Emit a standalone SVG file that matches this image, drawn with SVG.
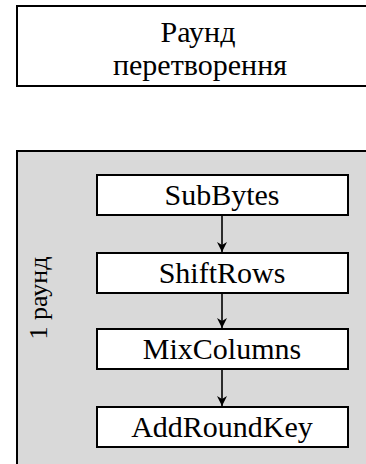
<svg xmlns="http://www.w3.org/2000/svg" width="366" height="464" viewBox="0 0 366 464">
<defs>
<style>
.box{fill:#fff;stroke:#000;stroke-width:2}
.c{stroke:#000;stroke-width:1.6;fill:none;marker-end:url(#ah)}
text{font-family:"Liberation Serif",serif;font-size:30px;fill:#000;text-anchor:middle}
</style>
<marker id="ah" viewBox="0 0 10 10" refX="10" refY="5" markerWidth="12" markerHeight="10" markerUnits="userSpaceOnUse" orient="auto">
<path d="M0,0 L10,5 L0,10 L3,5 Z" fill="#000"/>
</marker>
</defs>
<g id="round-transform">
<rect class="box" x="17" y="6" width="400" height="80"/>
<text x="198" y="42">Раунд</text>
<text x="200" y="75">перетворення</text>
</g>
<g id="round1">
<rect x="17" y="151" width="400" height="400" fill="#d9d9d9" stroke="#000" stroke-width="2"/>
<text style="font-size:26px" transform="translate(47,298) rotate(-90)">1 раунд</text>
</g>
<g id="subbytes">
<rect class="box" x="97" y="175" width="251" height="40"/>
<text x="222" y="205">SubBytes</text>
</g>
<g id="shiftrows">
<rect class="box" x="97" y="253" width="251" height="40"/>
<text x="222" y="283">ShiftRows</text>
</g>
<g id="mixcolumns">
<rect class="box" x="97" y="329" width="251" height="40"/>
<text x="222" y="359">MixColumns</text>
</g>
<g id="addroundkey">
<rect class="box" x="97" y="407" width="251" height="40"/>
<text x="222" y="437">AddRoundKey</text>
</g>
<g id="connectors">
<line class="c" x1="222" y1="216" x2="222" y2="252"/>
<line class="c" x1="222" y1="294" x2="222" y2="328"/>
<line class="c" x1="222" y1="370" x2="222" y2="406"/>
</g>
</svg>
